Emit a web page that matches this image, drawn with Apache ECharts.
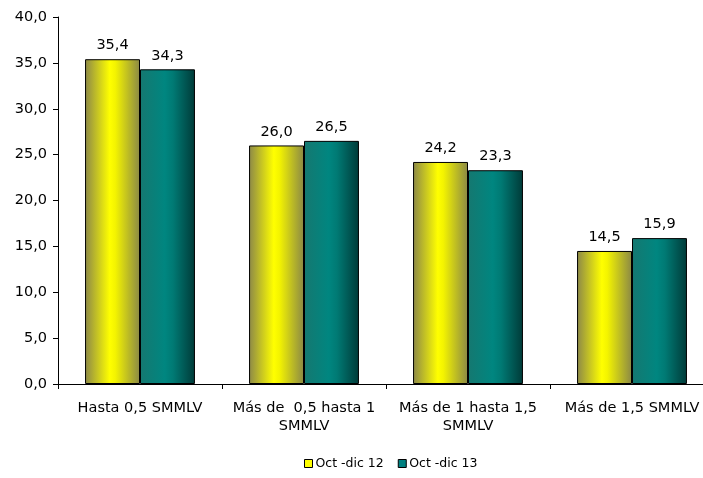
<!DOCTYPE html>
<html><head><meta charset="utf-8">
<script src="https://cdn.jsdelivr.net/npm/echarts@6/dist/echarts.min.js"></script>
<style>html,body{margin:0;padding:0;background:#fff;overflow:hidden;width:703px;height:478px}#c{width:714px;height:478px}</style>
</head><body><div id="c"></div>
<script>
const categories = ['Hasta 0,5 SMMLV', 'Más de  0,5 hasta 1\nSMMLV', 'Más de 1 hasta 1,5\nSMMLV', 'Más de 1,5 SMMLV'];
const seriesNames = ['Oct -dic 12', 'Oct -dic 13'];
const values2012 = [35.4, 26.0, 24.2, 14.5];
const values2013 = [34.3, 26.5, 23.3, 15.9];

const fmt = v => v.toFixed(1).replace('.', ',');
const yellowGrad = new echarts.graphic.LinearGradient(0,0,1,0,[
  {offset:0,color:'#8c8848'},{offset:0.45,color:'#ffff00'},{offset:0.55,color:'#f4f400'},{offset:1,color:'#8a8846'}]);
const tealGrad = new echarts.graphic.LinearGradient(0,0,1,0,[
  {offset:0,color:'#157870'},{offset:0.45,color:'#008680'},{offset:0.6,color:'#007a74'},{offset:1,color:'#003a38'}]);
const font = 'DejaVu Sans, Arial, sans-serif';
const chart = echarts.init(document.getElementById('c'));
chart.setOption({
  animation:false,
  grid:{left:58,top:17,right:0,bottom:94},
  legend:{bottom:3,left:299,itemWidth:8,itemHeight:8,itemGap:14,
    textStyle:{fontFamily:font,fontSize:12.5,color:'#000',padding:[0,0,0,-2]},
    data:seriesNames.map((n,i)=>({name:n,icon:'rect',itemStyle:{color:i?'#008080':'#ffff00',borderColor:'#000',borderWidth:1}}))},
  xAxis:{type:'category',data:categories,
    axisLine:{lineStyle:{color:'#000'}},axisTick:{show:true,interval:0,length:5,lineStyle:{color:'#000'}},
    axisLabel:{interval:0,hideOverlap:false,fontFamily:font,fontSize:14.5,color:'#000',margin:15,lineHeight:18}},
  yAxis:{type:'value',min:0,max:40,interval:5,
    axisLine:{show:true,lineStyle:{color:'#000'}},axisTick:{show:true,length:5,lineStyle:{color:'#000'}},
    splitLine:{show:false},
    axisLabel:{fontFamily:font,fontSize:14.5,color:'#000',formatter:v=>fmt(v),margin:11}},
  series:[
    {name:seriesNames[0],type:'bar',data:values2012,barGap:'0%',barCategoryGap:'33%',
     itemStyle:{color:yellowGrad,borderColor:'#000',borderWidth:1},
     label:{show:true,position:'top',distance:6,formatter:p=>fmt(p.value),fontFamily:font,fontSize:14.5,color:'#000'}},
    {name:seriesNames[1],type:'bar',data:values2013,
     itemStyle:{color:tealGrad,borderColor:'#000',borderWidth:1},
     label:{show:true,position:'top',distance:6,formatter:p=>fmt(p.value),fontFamily:font,fontSize:14.5,color:'#000'}}
  ]
});
</script></body></html>
